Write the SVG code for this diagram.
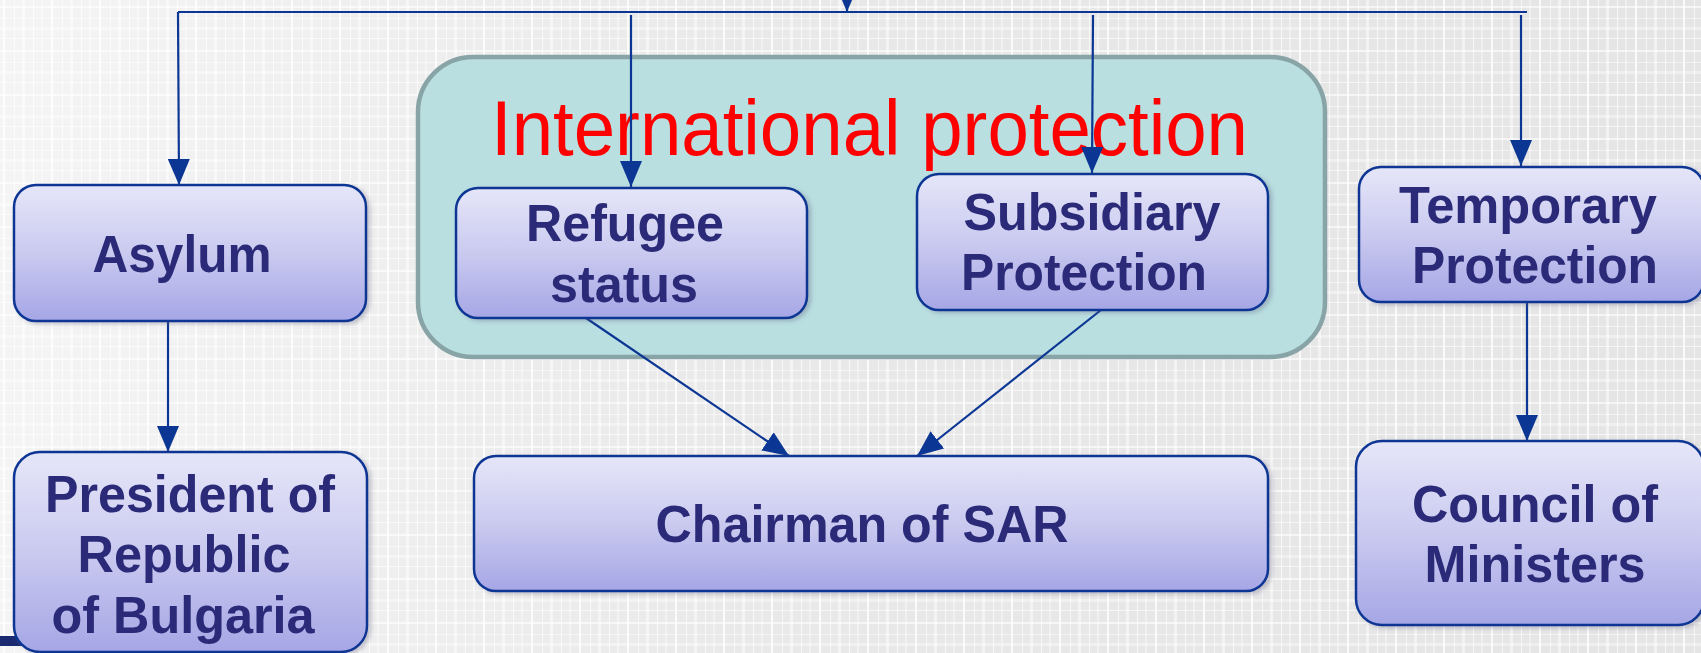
<svg xmlns="http://www.w3.org/2000/svg" width="1701" height="653" viewBox="0 0 1701 653">
<style>
.node rect{fill:url(#nodeGrad);stroke:#0b3694;stroke-width:2.5;filter:url(#shadow)}
.node text{font-family:"Liberation Sans",Arial,sans-serif;font-weight:bold;font-size:52px;fill:#2a2a78;text-anchor:middle}
.conn line,.conn path{stroke:#0b3694;stroke-width:2.2;fill:none}
.title{font-family:"Liberation Sans",Arial,sans-serif;font-size:78px;fill:#ff0000}
</style>
<defs>
<linearGradient id="nodeGrad" x1="0" y1="0" x2="0" y2="1">
<stop offset="0" stop-color="#e6e6f9"/>
<stop offset="0.5" stop-color="#cacaf0"/>
<stop offset="1" stop-color="#a6a6e6"/>
</linearGradient>
<linearGradient id="fade" x1="0" y1="0" x2="1" y2="0">
<stop offset="0" stop-color="#ffffff" stop-opacity="0.6"/>
<stop offset="0.45" stop-color="#ffffff" stop-opacity="0.15"/>
<stop offset="1" stop-color="#ffffff" stop-opacity="0"/>
</linearGradient>
<pattern id="grid" width="48" height="44" patternUnits="userSpaceOnUse">
<rect width="48" height="44" fill="#e5e5e5"/>
<rect x="3" width="2" height="44" fill="#ffffff" opacity="0.8"/>
<rect x="14" width="1" height="44" fill="#ffffff" opacity="0.6"/>
<rect x="22" width="3" height="44" fill="#ffffff" opacity="0.5"/>
<rect x="33" width="1" height="44" fill="#ffffff" opacity="0.7"/>
<rect x="41" width="2" height="44" fill="#ffffff" opacity="0.4"/>
<rect y="6" width="48" height="2" fill="#ffffff" opacity="0.6"/>
<rect y="18" width="48" height="1" fill="#ffffff" opacity="0.5"/>
<rect y="27" width="48" height="3" fill="#ffffff" opacity="0.4"/>
<rect y="38" width="48" height="1" fill="#ffffff" opacity="0.6"/>
</pattern>
<filter id="shadow" x="-5%" y="-5%" width="115%" height="115%">
<feDropShadow dx="3" dy="2" stdDeviation="2" flood-color="#606080" flood-opacity="0.35"/>
</filter>
<marker id="arrow" viewBox="0 0 26 22" refX="26" refY="11" markerWidth="26" markerHeight="22" markerUnits="userSpaceOnUse" orient="auto">
<path d="M0,0 L26,11 L0,22 z" fill="#0b3694"/>
</marker>
</defs>
<rect width="1701" height="653" fill="url(#grid)"/>
<rect width="1701" height="653" fill="url(#fade)"/>
<rect x="0" y="636" width="22" height="10" fill="#1a2a70"/>

<g id="intl-protection">
<rect x="418" y="57" width="907" height="300" rx="55" ry="55" fill="#b9dfe1" stroke="#88a4a6" stroke-width="4.5"/>
<text class="title" x="491" y="155" textLength="757" lengthAdjust="spacingAndGlyphs">International protection</text>
</g>

<g class="conn" id="connectors">
<line x1="847" y1="0" x2="847" y2="12" marker-end="url(#arrow)"/>
<line x1="178" y1="12" x2="1527" y2="12"/>
<line x1="178" y1="12" x2="179" y2="185" marker-end="url(#arrow)"/>
<line x1="631" y1="15" x2="631" y2="187" marker-end="url(#arrow)"/>
<line x1="1093" y1="15" x2="1092" y2="173" marker-end="url(#arrow)"/>
<line x1="1521" y1="15" x2="1521" y2="166" marker-end="url(#arrow)"/>
<line x1="168" y1="321" x2="168" y2="452" marker-end="url(#arrow)"/>
<line x1="586" y1="318" x2="789" y2="456" marker-end="url(#arrow)"/>
<line x1="1101" y1="310" x2="917" y2="456" marker-end="url(#arrow)"/>
<line x1="1527" y1="302" x2="1527" y2="441" marker-end="url(#arrow)"/>
</g>

<g class="node" id="asylum">
<rect x="14" y="185" width="352" height="136" rx="22"/>
<text x="182" y="272" textLength="179" lengthAdjust="spacingAndGlyphs">Asylum</text>
</g>
<g class="node" id="refugee">
<rect x="456" y="188" width="351" height="130" rx="22"/>
<text x="625" y="241" textLength="198" lengthAdjust="spacingAndGlyphs">Refugee</text>
<text x="624" y="302" textLength="148" lengthAdjust="spacingAndGlyphs">status</text>
</g>
<g class="node" id="subsidiary">
<rect x="917" y="174" width="351" height="136" rx="22"/>
<text x="1092" y="230" textLength="257" lengthAdjust="spacingAndGlyphs">Subsidiary</text>
<text x="1084" y="290" textLength="246" lengthAdjust="spacingAndGlyphs">Protection</text>
</g>
<g class="node" id="temporary">
<rect x="1359" y="167" width="345" height="135" rx="22"/>
<text x="1528" y="223" textLength="258" lengthAdjust="spacingAndGlyphs">Temporary</text>
<text x="1535" y="283" textLength="246" lengthAdjust="spacingAndGlyphs">Protection</text>
</g>
<g class="node" id="president">
<rect x="14" y="452" width="353" height="200" rx="26"/>
<text x="190" y="512" textLength="290" lengthAdjust="spacingAndGlyphs">President of</text>
<text x="184" y="572" textLength="213" lengthAdjust="spacingAndGlyphs">Republic</text>
<text x="183" y="633" textLength="263" lengthAdjust="spacingAndGlyphs">of Bulgaria</text>
</g>
<g class="node" id="chairman">
<rect x="474" y="456" width="794" height="135" rx="22"/>
<text x="862" y="542" textLength="413" lengthAdjust="spacingAndGlyphs">Chairman of SAR</text>
</g>
<g class="node" id="council">
<rect x="1356" y="441" width="348" height="184" rx="26"/>
<text x="1535" y="522" textLength="246" lengthAdjust="spacingAndGlyphs">Council of</text>
<text x="1535" y="582" textLength="221" lengthAdjust="spacingAndGlyphs">Ministers</text>
</g>
</svg>
